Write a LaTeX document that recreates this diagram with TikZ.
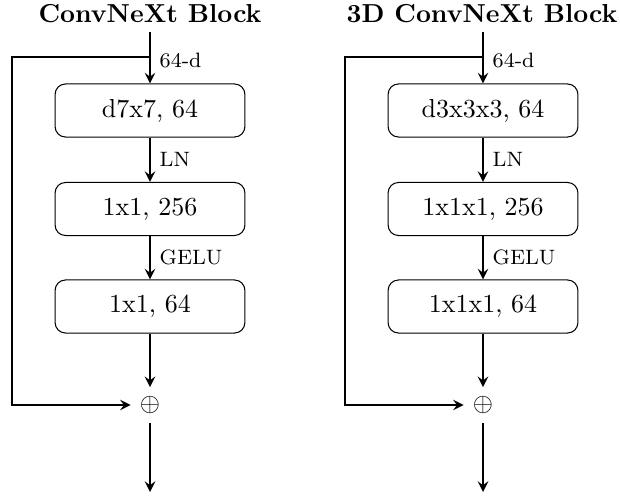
\documentclass[tikz,border=0pt]{standalone}
\usetikzlibrary{arrows}
\tikzset{
  convbox/.style={draw, rounded corners=4pt, minimum width=73pt, minimum height=20.4pt, font=\normalsize},
  edgelabel/.style={right, font=\footnotesize},
  blocktitle/.style={font=\normalsize\bfseries},
}
\begin{document}
\begin{tikzpicture}[>=stealth, x=0.3846pt, y=-0.3846pt]
            \useasboundingbox (0,0) rectangle (620,497);
            % 左侧: ConvNeXt Block
            \node[blocktitle] (T1) at (150,13.5) {ConvNeXt Block};
            \coordinate (in1) at (150,32);
            \coordinate (split1) at (150,57);
            \node[convbox] (A1) at (150,110.5) {d7x7, 64};
            \node[convbox] (B1) at (150,209) {1x1, 256};
            \node[convbox] (C1) at (150,306.5) {1x1, 64};
            \node (S1) at (150,405) {$\oplus$};
            \coordinate (out1) at (150,492);

            \draw[->, thick] (in1) -- node[pos=0.55, edgelabel] {64-d} (A1);
            \draw[->, thick] (A1) -- node[edgelabel] {LN} (B1);
            \draw[->, thick] (B1) -- node[edgelabel] {GELU} (C1);
            \draw[->, thick] (C1) -- (S1);
            \draw[->, thick] (S1) -- (out1);
            % 残差连接
            \draw[->, thick] (split1) -- ++(-138,0) |- (S1);

            % 右侧: 3D ConvNeXt Block
            \node[blocktitle] (T2) at (482,13.5) {3D ConvNeXt Block};
            \coordinate (in2) at (483,32);
            \coordinate (split2) at (483,57);
            \node[convbox] (A2) at (483,110.5) {d3x3x3, 64};
            \node[convbox] (B2) at (483,209) {1x1x1, 256};
            \node[convbox] (C2) at (483,306.5) {1x1x1, 64};
            \node (S2) at (483,405) {$\oplus$};
            \coordinate (out2) at (483,492);

            \draw[->, thick] (in2) -- node[pos=0.55, edgelabel] {64-d} (A2);
            \draw[->, thick] (A2) -- node[edgelabel] {LN} (B2);
            \draw[->, thick] (B2) -- node[edgelabel] {GELU} (C2);
            \draw[->, thick] (C2) -- (S2);
            \draw[->, thick] (S2) -- (out2);
            % 残差连接
            \draw[->, thick] (split2) -- ++(-138,0) |- (S2);
\end{tikzpicture}
\end{document}
